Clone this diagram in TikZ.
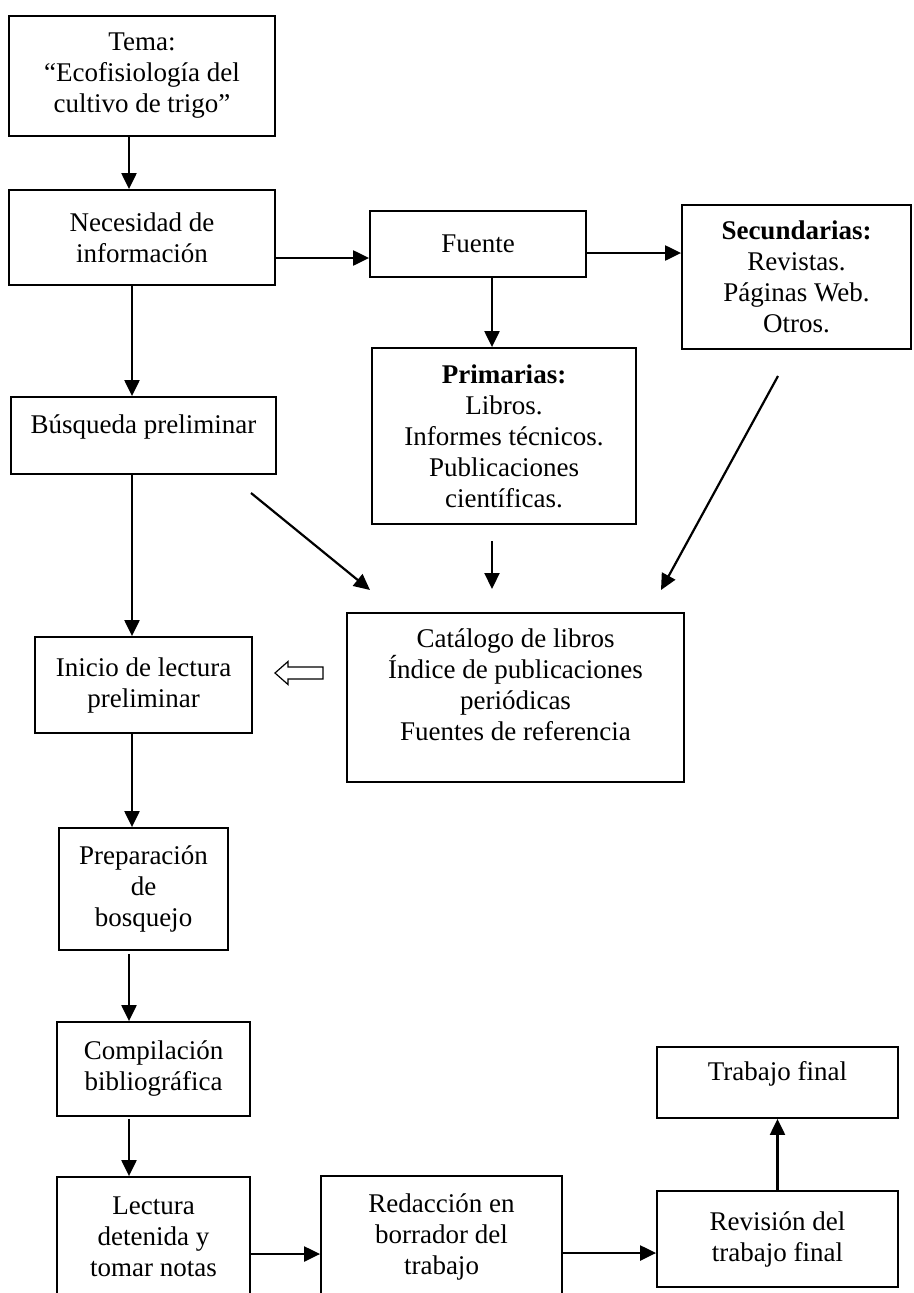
\documentclass[tikz,border=0pt]{standalone}
\usepackage{fontspec}
\setmainfont{Liberation Serif}
\usetikzlibrary{arrows.meta}
\begin{document}
\begin{tikzpicture}[x=1pt,y=-1pt,
  stepbox/.style={draw, line width=1.8pt, rectangle, inner sep=0pt, align=center,
    font=\fontsize{27}{31}\selectfont},
  arr/.style={line width=2.2pt, -{Triangle[length=16pt,width=15pt]}},
  hollow/.style={line width=1.2pt, fill=white, line join=miter},
]
\useasboundingbox (0,0) rectangle (913,1293);

% boxes of the left column
\node[stepbox, minimum width=266pt, minimum height=120pt] (tema) at (142,76)
  {Tema:\\“Ecofisiología del\\cultivo de trigo”};
\node[stepbox, minimum width=266pt, minimum height=95pt] (nec) at (142,237.5)
  {Necesidad de\\información};
\node[stepbox, minimum width=265pt, minimum height=77pt, text depth=23pt] (bus) at (143.5,435.5)
  {Búsqueda preliminar};
\node[stepbox, minimum width=217pt, minimum height=96pt] (ini) at (143.5,685)
  {Inicio de lectura\\preliminar};
\node[stepbox, minimum width=169pt, minimum height=122pt] (prep) at (143.5,889)
  {Preparación\\de\\bosquejo};
\node[stepbox, minimum width=193pt, minimum height=94pt] (comp) at (153.5,1069)
  {Compilación\\bibliográfica};
\node[stepbox, minimum width=193pt, minimum height=120pt] (lect) at (153.5,1237)
  {Lectura\\detenida y\\tomar notas};

% sources
\node[stepbox, minimum width=216pt, minimum height=66pt] (fuente) at (478,244)
  {Fuente};
\node[stepbox, minimum width=229pt, minimum height=144pt] (sec) at (796.5,277)
  {\textbf{Secundarias:}\\Revistas.\\Páginas Web.\\Otros.};
\node[stepbox, minimum width=264pt, minimum height=176pt] (prim) at (504,436)
  {\textbf{Primarias:}\\Libros.\\Informes técnicos.\\Publicaciones\\científicas.};
\node[stepbox, minimum width=337pt, minimum height=169pt, text depth=26pt] (cat) at (515.5,697.5)
  {Catálogo de libros\\Índice de publicaciones\\periódicas\\Fuentes de referencia};

% writing stage
\node[stepbox, minimum width=241pt, minimum height=121pt] (red) at (441.5,1236.5)
  {Redacción en\\borrador del\\trabajo};
\node[stepbox, minimum width=241pt, minimum height=96pt] (rev) at (777.5,1239)
  {Revisión del\\trabajo final};
\node[stepbox, minimum width=241pt, minimum height=71pt, text depth=24pt] (fin) at (777.5,1082.5)
  {Trabajo final};

% free arrow ends pointing at the catalogue
\coordinate (busd) at (251,493);
\coordinate (busdt) at (370,590);
\coordinate (primd) at (492,541);
\coordinate (primdt) at (492,589);
\coordinate (secd) at (778,376);
\coordinate (secdt) at (661,590);
\coordinate (back) at (275,673);

% connectors
\draw[arr] ([xshift=-13pt]tema.south) -- ([xshift=-13pt]tema.south |- nec.north);
\draw[arr] ([xshift=-10pt]nec.south) -- ([xshift=-10pt]nec.south |- bus.north);
\draw[arr] ([yshift=-20.5pt]nec.east) -- ([yshift=-20.5pt]nec.east -| fuente.west);
\draw[arr] ([yshift=-9pt]fuente.east) -- ([yshift=-9pt]fuente.east -| sec.west);
\draw[arr] ([xshift=14pt]fuente.south) -- ([xshift=14pt]fuente.south |- prim.north);
\draw[arr] ([xshift=-11.5pt]bus.south) -- ([xshift=-11.5pt]bus.south |- ini.north);
\draw[arr] ([xshift=-11.5pt]ini.south) -- ([xshift=-11.5pt]ini.south |- prep.north);
\draw[arr] ([xshift=-14.5pt,yshift=-3pt]prep.south) -- ([xshift=-24.5pt]comp.north);
\draw[arr] ([xshift=-24.5pt,yshift=-2pt]comp.south) -- ([xshift=-24.5pt]lect.north);
\draw[arr] ([yshift=-17pt]lect.east) -- ([yshift=-17pt]lect.east -| red.west);
\draw[arr] ([yshift=-16.5pt]red.east) -- ([yshift=-16.5pt]red.east -| rev.west);
\draw[arr] (rev.north) -- (rev.north |- fin.south);

\draw[arr] (busd) -- (busdt);
\draw[arr] (primd) -- (primdt);
\draw[arr] (secd) -- (secdt);

% hollow arrow from the catalogue back to the reading step
\draw[hollow] (back) -- ++(13,-11.5) -- ++(0,5.5) -- ++(35,0) -- ++(0,12)
  -- ++(-35,0) -- ++(0,5.5) -- cycle;
\end{tikzpicture}
\end{document}
